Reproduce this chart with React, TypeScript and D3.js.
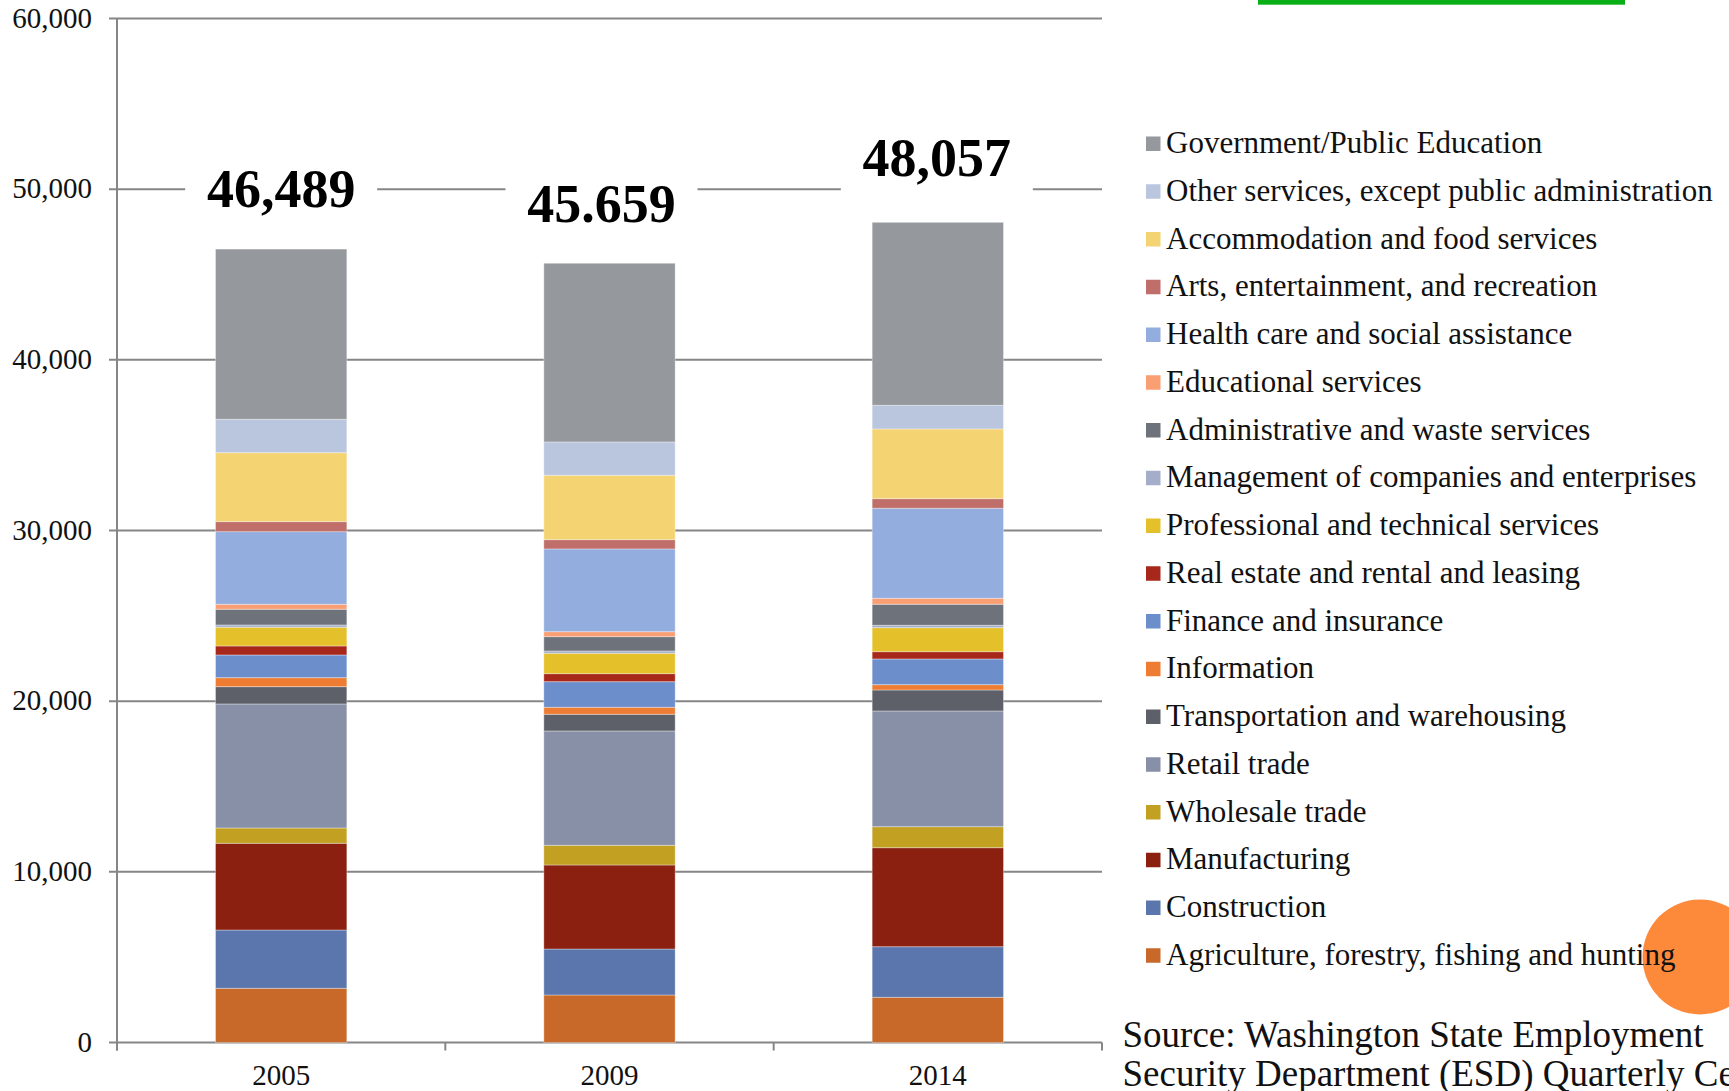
import React from "react";
import * as d3 from "d3";

const years = ["2005", "2009", "2014"];

// bottom-to-top stacking order
const industries = [
  "Agriculture, forestry, fishing and hunting",
  "Construction",
  "Manufacturing",
  "Wholesale trade",
  "Retail trade",
  "Transportation and warehousing",
  "Information",
  "Finance and insurance",
  "Real estate and rental and leasing",
  "Professional and technical services",
  "Management of companies and enterprises",
  "Administrative and waste services",
  "Educational services",
  "Health care and social assistance",
  "Arts, entertainment, and recreation",
  "Accommodation and food services",
  "Other services, except public administration",
  "Government/Public Education",
];

const industryColors = [
  "#C8692A", "#5B76AD", "#8B1F10", "#C1A022", "#8890A8", "#5D6068",
  "#EE7D33", "#6C8ECB", "#A7281A", "#E4C02A", "#A4AECA", "#6E727A",
  "#FA9E74", "#92ADDE", "#BF6E6A", "#F4D372", "#BAC5DE", "#95989C",
];

const values2005 = [3176, 3416, 5081, 897, 7266, 1014, 527, 1330, 528, 1096, 134, 920, 293, 4255, 586, 4043, 1957, 9970];
const values2009 = [2783, 2696, 4922, 1155, 6698, 978, 411, 1500, 469, 1195, 135, 838, 292, 4847, 545, 3774, 1951, 10470];
const values2014 = [2649, 2965, 5801, 1231, 6780, 1230, 311, 1506, 428, 1406, 141, 1230, 352, 5274, 562, 4085, 1389, 10717];

const totalLabels = ["46,489", "45.659", "48,057"];
const yTicks = [0, 10000, 20000, 30000, 40000, 50000, 60000];

const sourceLines = [
  "Source: Washington State Employment",
  "Security Department (ESD) Quarterly Census of Employment and Wages",
];

// layout (not data)
const W = 1729;
const H = 1091;
const plotLeft = 117;
const plotRight = 1102;
const plotTop = 18.5;
const plotBottom = 1042.5;
const labelBaselines = [207, 222, 176];
const labelDx = [0, -8, -1];
const FONT = "'Liberation Serif', 'Times New Roman', serif";
const GRID = "#868686";

export default function App() {
  const valuesByYear = [values2005, values2009, values2014];
  const rows = years.map((yr, i) => {
    const r: any = { year: yr };
    industries.forEach((ind, j) => (r[ind] = valuesByYear[i][j]));
    return r;
  });
  const stack = d3.stack<any>().keys(industries)(rows);

  const x = d3
    .scaleBand<string>()
    .domain(years)
    .range([plotLeft, plotRight])
    .paddingInner(0.6)
    .paddingOuter(0.3);
  const y = d3.scaleLinear().domain([0, 60000]).range([plotBottom, plotTop]);
  const fmt = d3.format(",");
  const step = x.step();
  const xTickPositions = [0, 1, 2, 3].map((k) => plotLeft + k * step);

  const legendTop = 143.5;
  const legendStep = 47.75;
  const legendOrder = industries.slice().reverse();

  return (
    <svg
      width={W}
      height={H}
      viewBox={`0 0 ${W} ${H}`}
      style={{ position: "absolute", left: 0, top: 0, background: "#fff" }}
    >
      <rect x={0} y={0} width={W} height={H} fill="#fff" />
      {/* green bar at top */}
      <rect x={1258} y={0} width={367} height={4.7} fill="#0AAF18" />

      {/* gridlines + y ticks */}
      {yTicks.map((t) => (
        <g key={t}>
          <line x1={plotLeft - 8} x2={plotRight} y1={y(t)} y2={y(t)} stroke={GRID} strokeWidth={2} />
          <text
            x={92}
            y={y(t) + 9}
            textAnchor="end"
            fontFamily={FONT}
            fontSize={29}
            fill="#111"
          >
            {fmt(t)}
          </text>
        </g>
      ))}
      {/* y axis */}
      <line x1={plotLeft} x2={plotLeft} y1={plotTop} y2={plotBottom + 8} stroke={GRID} strokeWidth={2} />
      {/* x ticks */}
      {xTickPositions.map((px, k) => (
        <line key={k} x1={px} x2={px} y1={plotBottom} y2={plotBottom + 8} stroke={GRID} strokeWidth={2} />
      ))}

      {/* stacked bars */}
      {stack.map((series, j) => (
        <g key={series.key} fill={industryColors[j]}>
          {series.map((d: any, i: number) => (
            <rect
              key={i}
              x={x(years[i])}
              width={x.bandwidth()}
              y={y(d[1])}
              height={y(d[0]) - y(d[1])}
              stroke="#ffffff"
              strokeOpacity={0.35}
              strokeWidth={1}
            />
          ))}
        </g>
      ))}

      {/* x labels */}
      {years.map((yr) => (
        <text
          key={yr}
          x={(x(yr) as number) + x.bandwidth() / 2}
          y={1085}
          textAnchor="middle"
          fontFamily={FONT}
          fontSize={29}
          fill="#111"
        >
          {yr}
        </text>
      ))}

      {/* total labels */}
      {years.map((yr, i) => {
        const cx = (x(yr) as number) + x.bandwidth() / 2 + labelDx[i];
        const b = labelBaselines[i];
        return (
          <g key={yr}>
            <rect x={cx - 96} y={b - 50} width={192} height={70} fill="#fff" />
            <text
              x={cx}
              y={b}
              textAnchor="middle"
              fontFamily={FONT}
              fontWeight="bold"
              fontSize={54}
              fill="#000"
            >
              {totalLabels[i]}
            </text>
          </g>
        );
      })}

      {/* orange circle */}
      <circle cx={1700} cy={957} r={57.5} fill="#FD893A" />

      {/* legend */}
      {legendOrder.map((name, i) => {
        const cy = legendTop + i * legendStep;
        const colorIdx = industries.indexOf(name);
        return (
          <g key={name}>
            <rect x={1146} y={cy - 7} width={14.5} height={14.5} fill={industryColors[colorIdx]} />
            <text x={1166} y={cy + 9.5} fontFamily={FONT} fontSize={31} fill="#111">
              {name}
            </text>
          </g>
        );
      })}

      {/* source */}
      {sourceLines.map((s, i) => (
        <text key={i} x={1122.5} y={1047 + i * 39} fontFamily={FONT} fontSize={37} fill="#111">
          {s}
        </text>
      ))}
    </svg>
  );
}
